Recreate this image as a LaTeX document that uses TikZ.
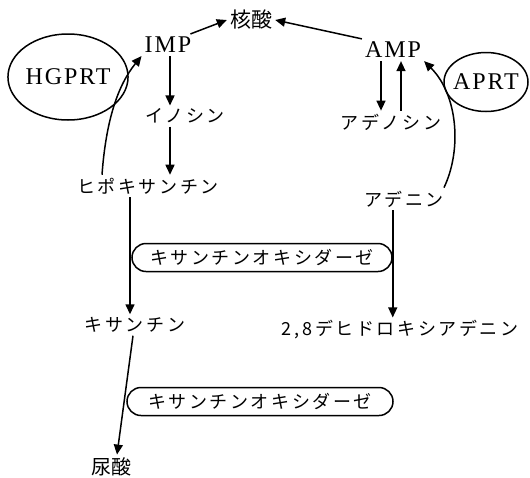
\documentclass[tikz,border=0pt]{standalone}
\usepackage{fontspec}
\setmainfont{Liberation Serif}
\newfontfamily\jpfont[LetterSpace=14]{Noto Sans CJK JP}
\newfontfamily\jpkanji{Noto Sans CJK JP}
\newfontfamily\latfont[LetterSpace=8]{Liberation Serif}
\usetikzlibrary{arrows.meta,shapes.geometric}
\begin{document}
\begin{tikzpicture}[x=1pt,y=-1pt,
  jp/.style={font=\jpfont\fontsize{18}{18}\selectfont, inner sep=3pt},
  kanji/.style={font=\jpkanji\fontsize{21}{21}\selectfont, inner sep=3pt},
  lat/.style={font=\latfont\fontsize{24}{24}\selectfont, inner sep=3pt},
  arr/.style={-{Triangle[length=10pt,width=9pt]}, line width=1.5pt},
  enzyme/.style={draw, line width=1.5pt, rounded corners=14pt, minimum height=28pt,
    font=\jpfont\fontsize{18}{18}\selectfont, inner sep=0pt},
  enz/.style={draw, ellipse, line width=1.5pt, inner sep=0pt,
    font=\latfont\fontsize{24}{24}\selectfont}
]
\useasboundingbox (0,0) rectangle (530,477);

\node[kanji] (nuc) at (251,20) {核酸};
\node[lat] (imp) at (168,45) {IMP};
\node[lat] (amp) at (393,50) {AMP};
\node[jp] (ino) at (185,116) {イノシン};
\node[jp] (ado) at (391,122) {アデノシン};
\node[jp] (hyp) at (148,186) {ヒポキサンチン};
\node[jp] (ade) at (404,199) {アデニン};
\node[jp] (xan) at (135,325) {キサンチン};
\node[jp] (dha) at (400,330) {2\hspace{3pt},\hspace{3pt}8デヒドロキシアデニン};
\node[kanji, font=\jpkanji\fontsize{20}{20}\selectfont] (uric) at (111,467) {尿酸};

\node[enz, minimum width=120pt, minimum height=86pt] (hg) at (68,77) {HGPRT};
\node[enz, minimum width=84pt, minimum height=59pt] (ap) at (486,82) {\makebox[40pt]{APRT}};

\node[enzyme, minimum width=260pt] (xo1) at (262,257.5) {キサンチンオキシダーゼ};
\node[enzyme, minimum width=266pt] (xo2) at (260,401.5) {キサンチンオキシダーゼ};

% to nucleic acid
\draw[arr] ([xshift=-4pt]imp.north east) -- (nuc.west);
\draw[arr] (amp.north west) -- (nuc.east);

% IMP branch
\draw[arr] ([xshift=2pt]imp.south) -- ([xshift=2pt]imp.south |- ino.north);
\draw[arr] ([xshift=2pt]imp.south |- ino.south) -- ([xshift=2pt]imp.south |- hyp.north);
\draw[arr] ([xshift=-46pt]hyp.north) .. controls (106,120) and (118,85) .. (imp.south west);

% AMP branch
\draw[arr] ([xshift=-12pt]amp.south) -- ([xshift=-12pt]amp.south |- ado.north);
\draw[arr] ([xshift=8pt]amp.south |- ado.north) -- ([xshift=8pt]amp.south);
\draw[arr] ([xshift=-3pt]ade.north east) .. controls (462,150) and (458,95) .. (amp.south east);

% oxidase steps
\draw[arr] ([xshift=-18pt]hyp.south) -- ([xshift=-5pt]xan.north);
\draw[arr] (xo1.east |- ade.south) -- (xo1.east |- dha.north);
\draw[arr] ([xshift=-2pt]xan.south) -- ([xshift=6pt]uric.north);
\end{tikzpicture}
\end{document}
